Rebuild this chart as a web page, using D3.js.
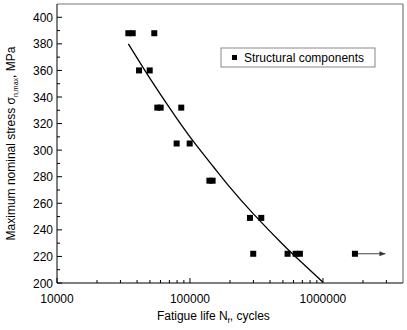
<!DOCTYPE html>
<html>
<head>
<meta charset="utf-8">
<script src="https://cdn.jsdelivr.net/npm/d3@7"></script>
<style>
  body { margin: 0; background: #fff; }
  text { font-family: Arial, "Liberation Sans", sans-serif; }
</style>
</head>
<body>
<div id="chart"></div>
<script>
// test results, structural components
const lifeCycles = [34400, 37100, 53900, 41400, 49800, 56800, 60200, 86000, 79400, 99500,
                    140000, 148000, 282600, 343700, 299000, 542000, 623000, 671000, 1740000];
const stressMax  = [388, 388, 388, 360, 360, 332, 332, 332, 305, 305,
                    277, 277, 249, 249, 222, 222, 222, 222, 222];
// run-out specimen (arrow)
const runoutFrom = [1740000, 222];
const runoutTo   = [2950000, 222];

// fit curve
const fitLife   = [34400, 50000, 70000, 100000, 150000, 200000, 300000, 500000, 700000, 1000000];
const fitStress = [380, 354, 332, 310, 287.5, 272, 252, 229, 215, 200.5];

const xTickMajor = [10000, 100000, 1000000];
const yTicks = [200, 220, 240, 260, 280, 300, 320, 340, 360, 380, 400];

const W = 407, H = 330;
const margin = {top: 4, right: 4, bottom: 47, left: 57};
const width = W - margin.left - margin.right;
const height = H - margin.top - margin.bottom;

const svg = d3.select("#chart").append("svg")
    .attr("width", W)
    .attr("height", H);

const g = svg.append("g")
    .attr("transform", "translate(" + margin.left + "," + margin.top + ")");

const x = d3.scaleLog().domain([10000, 4000000]).range([0, width]);
const y = d3.scaleLinear().domain([200, 410]).range([height, 0]);

// frame (top/right)
g.append("line").attr("x1", 0).attr("x2", width).attr("y1", 0).attr("y2", 0)
    .attr("stroke", "#777").attr("stroke-width", 1);
g.append("line").attr("x1", width).attr("x2", width).attr("y1", 0).attr("y2", height)
    .attr("stroke", "#777").attr("stroke-width", 1.2);

// minor x ticks
let xMinor = [];
[10000, 100000, 1000000].forEach(function(d) {
    for (let k = 2; k <= 9; k++) { if (d * k < 4000000) xMinor.push(d * k); }
});

const xAxis = g.append("g").attr("transform", "translate(0," + height + ")");
xAxis.append("line").attr("x1", 0).attr("x2", width).attr("stroke", "#000");
xAxis.selectAll(".minor").data(xMinor).enter().append("line")
    .attr("x1", d => x(d)).attr("x2", d => x(d))
    .attr("y1", 0).attr("y2", -3).attr("stroke", "#000");
xAxis.selectAll(".major").data(xTickMajor).enter().append("line")
    .attr("x1", d => x(d)).attr("x2", d => x(d))
    .attr("y1", 0).attr("y2", -5).attr("stroke", "#000");
xAxis.selectAll("text").data(xTickMajor).enter().append("text")
    .attr("x", d => x(d)).attr("y", 20)
    .attr("text-anchor", "middle")
    .attr("font-size", 12)
    .text(d => d);

// y axis
const yAxis = g.append("g");
yAxis.append("line").attr("y1", 0).attr("y2", height).attr("stroke", "#000");
const yMinor = d3.range(210, 410, 20);
yAxis.selectAll(".minor").data(yMinor).enter().append("line")
    .attr("y1", d => y(d)).attr("y2", d => y(d))
    .attr("x1", 0).attr("x2", 3).attr("stroke", "#000");
yAxis.selectAll(".major").data(yTicks).enter().append("line")
    .attr("y1", d => y(d)).attr("y2", d => y(d))
    .attr("x1", 0).attr("x2", 5).attr("stroke", "#000");
yAxis.selectAll("text").data(yTicks).enter().append("text")
    .attr("x", -4).attr("y", d => y(d) + 4.5)
    .attr("text-anchor", "end")
    .attr("font-size", 12)
    .text(d => d);

// fit curve
const fitData = fitLife.map((d, i) => ({n: d, s: fitStress[i]}));
const line = d3.line()
    .x(d => x(d.n))
    .y(d => y(d.s))
    .curve(d3.curveNatural);
g.append("path").datum(fitData)
    .attr("d", line)
    .attr("fill", "none")
    .attr("stroke", "#000")
    .attr("stroke-width", 1.3);

// run-out arrow
g.append("defs").append("marker")
    .attr("id", "arrow")
    .attr("viewBox", "0 0 10 10")
    .attr("refX", 10).attr("refY", 5)
    .attr("markerWidth", 8).attr("markerHeight", 6)
    .attr("markerUnits", "userSpaceOnUse")
    .attr("orient", "auto")
    .append("path").attr("d", "M0,1 L10,5 L0,9 Z").attr("fill", "#333");
g.append("line")
    .attr("x1", x(runoutFrom[0])).attr("y1", y(runoutFrom[1]))
    .attr("x2", x(runoutTo[0])).attr("y2", y(runoutTo[1]))
    .attr("stroke", "#444").attr("stroke-width", 1)
    .attr("marker-end", "url(#arrow)");

// points
const pts = lifeCycles.map((d, i) => ({n: d, s: stressMax[i]}));
g.selectAll(".pt").data(pts).enter().append("rect")
    .attr("class", "pt")
    .attr("x", d => x(d.n) - 3)
    .attr("y", d => y(d.s) - 3)
    .attr("width", 6).attr("height", 6)
    .attr("fill", "#000");

// legend
const leg = g.append("g").attr("transform", "translate(" + (221 - margin.left) + "," + (48 - margin.top) + ")");
leg.append("rect").attr("width", 154).attr("height", 19)
    .attr("fill", "#fff").attr("stroke", "#888").attr("stroke-width", 1);
leg.append("rect").attr("x", 11).attr("y", 7).attr("width", 5).attr("height", 5).attr("fill", "#000");
leg.append("text").attr("x", 23).attr("y", 14).attr("font-size", 12).text("Structural components");

// axis titles
const xt = svg.append("text")
    .attr("x", margin.left + x(150000)).attr("y", 320)
    .attr("text-anchor", "middle").attr("font-size", 12);
xt.append("tspan").text("Fatigue life N");
xt.append("tspan").attr("font-size", 8).attr("dy", 3).text("f");
xt.append("tspan").attr("dy", -3).text(", cycles");

const yt = svg.append("text")
    .attr("transform", "translate(15," + (margin.top + height / 2) + ") rotate(-90)")
    .attr("text-anchor", "middle").attr("font-size", 12);
yt.append("tspan").text("Maximum nominal stress σ");
yt.append("tspan").attr("font-size", 7).attr("dy", 3).text("n,max");
yt.append("tspan").attr("dy", -3).text(", MPa");
</script>
</body>
</html>
